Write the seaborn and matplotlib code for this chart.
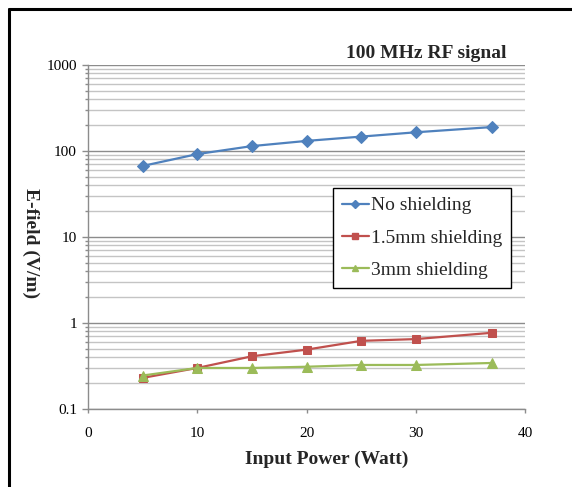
import matplotlib
matplotlib.use("Agg")
import matplotlib.pyplot as plt
import matplotlib.ticker as mticker
from matplotlib.lines import Line2D
import seaborn as sns
import pandas as pd

power = [5, 10, 15, 20, 25, 30, 37]
no_shield = [67, 92, 114, 131, 147, 165, 190]
shield_15 = [0.23, 0.30, 0.41, 0.49, 0.62, 0.65, 0.77]
shield_3 = [0.245, 0.30, 0.30, 0.31, 0.325, 0.325, 0.343]
series_names = ["No shielding", "1.5mm shielding", "3mm shielding"]
y_ticks = [0.1, 1, 10, 100, 1000]
x_ticks = [0, 10, 20, 30, 40]

colors = ["#4F81BD", "#C0504D", "#9BBB59"]
markers = ["D", "s", "^"]
msizes = [6.5, 5.5, 6.5]

sns.set_theme(style="white")
plt.rcParams["font.family"] = ["Liberation Serif", "DejaVu Serif"]

df = pd.DataFrame({
    "power": power * 3,
    "efield": no_shield + shield_15 + shield_3,
    "series": [series_names[0]] * 7 + [series_names[1]] * 7 + [series_names[2]] * 7,
})

W, H = 572, 487
fig = plt.figure(figsize=(W / 100, H / 100), dpi=100)
ax = fig.add_axes([88 / W, 1 - 409 / H, (525 - 88) / W, (409 - 65) / H])

for name, c, m, ms in zip(series_names, colors, markers, msizes):
    sub = df[df["series"] == name]
    sns.lineplot(data=sub, x="power", y="efield", ax=ax, color=c, marker=m,
                 markersize=ms, markeredgecolor=c, linewidth=1.6, legend=False)

ax.set_yscale("log")
ax.set_ylim(0.1, 1000)
ax.set_xlim(0, 40)
ax.set_xticks(x_ticks)
ax.set_yticks(y_ticks)
ax.yaxis.set_major_formatter(mticker.FuncFormatter(lambda v, p: f"{v:g}"))
ax.yaxis.set_minor_locator(mticker.LogLocator(base=10, subs=range(2, 10)))
ax.yaxis.set_minor_formatter(mticker.NullFormatter())

ax.grid(False)
ax.yaxis.grid(True, which="major", color="#8C8C8C", linewidth=1.0)
ax.yaxis.grid(True, which="minor", color="#C4C4C4", linewidth=1.0)
ax.set_axisbelow(True)

for s in ["top", "right"]:
    ax.spines[s].set_visible(False)
for s in ["left", "bottom"]:
    ax.spines[s].set_color("#8C8C8C")
    ax.spines[s].set_linewidth(1.0)

ax.tick_params(axis="y", which="major", direction="out", length=4, width=1,
               color="#8C8C8C", left=True, labelsize=11, pad=4, labelcolor="black")
ax.tick_params(axis="y", which="minor", direction="out", length=2.5, width=1,
               color="#8C8C8C", left=True)
ax.tick_params(axis="x", which="major", direction="out", length=3, width=1,
               color="#8C8C8C", bottom=True, labelsize=11, pad=10, labelcolor="black")

ax.set_xlabel("")
ax.set_ylabel("")
fig.text(327 / W, 1 - 459 / H, "Input Power (Watt)", ha="center", va="center",
         fontsize=14, fontweight="bold")
fig.text(31 / W, 1 - 243 / H, "E-field (V/m)", ha="center", va="center",
         fontsize=14, fontweight="bold", rotation=270)
fig.text(507 / W, 1 - 53 / H, "100 MHz RF signal", ha="right", va="center",
         fontsize=14, fontweight="bold")

handles = [Line2D([0], [0], color=c, marker=m, markersize=4.5, markeredgecolor=c,
                  linewidth=1.6) for c, m in zip(colors, markers)]
leg = ax.legend(handles, series_names, loc="upper left",
                bbox_to_anchor=(333 / W, 1 - 188 / H), bbox_transform=fig.transFigure,
                fontsize=14, frameon=True, fancybox=False, framealpha=1,
                edgecolor="black", handlelength=1.4, handletextpad=0.1,
                labelspacing=0.75, borderpad=0.45, borderaxespad=0)
leg.get_frame().set_linewidth(1.0)

# outer frame (top and left borders)
fig.add_artist(Line2D([9 / W, 1], [1 - 9 / H, 1 - 9 / H], transform=fig.transFigure,
                      color="black", linewidth=2.2))
fig.add_artist(Line2D([9 / W, 9 / W], [0, 1 - 9 / H], transform=fig.transFigure,
                      color="black", linewidth=2.2))

fig.savefig("out.png", dpi=100, facecolor="white")
